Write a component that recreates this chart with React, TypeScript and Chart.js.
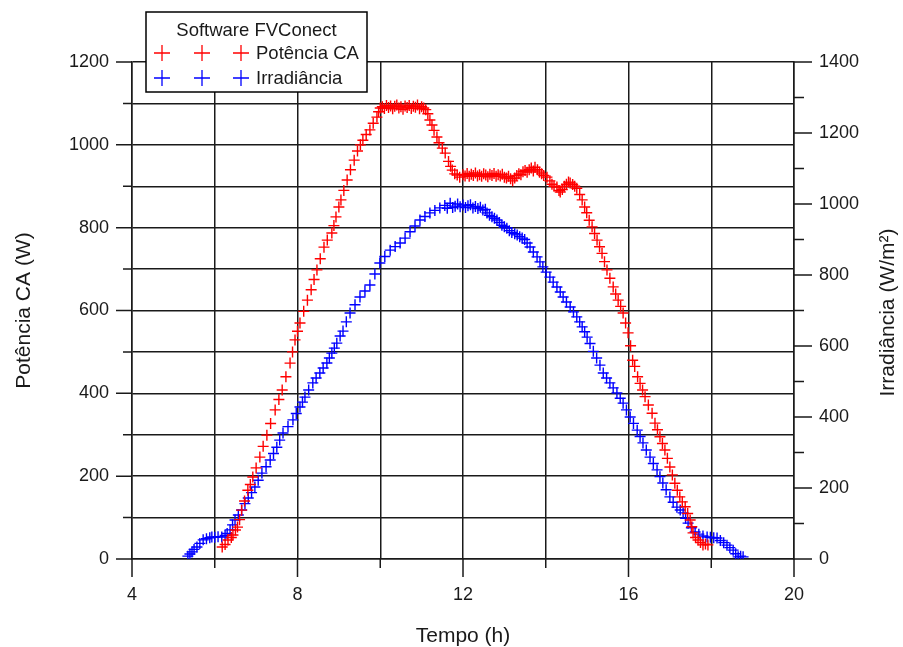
import React, { useEffect, useRef } from 'react';
import { Chart, registerables } from 'chart.js';

Chart.register(...registerables);

// ---------- data ----------
const xTickLabels = [4, 8, 12, 16, 20];
const leftTickLabels = [0, 200, 400, 600, 800, 1000, 1200];
const rightTickLabels = [0, 200, 400, 600, 800, 1000, 1200, 1400];

const legendTitle = 'Software FVConect';
const seriesNames = ['Potência CA', 'Irradiância'];
const axisTitles = ['Tempo (h)', 'Potência CA (W)', 'Irradiância (W/m²)'];

// Potência CA (W) vs time (h)
const potTime = [
  6.18, 6.25, 6.32, 6.40, 6.44, 6.50, 6.55, 6.60, 6.65, 6.72, 6.80, 6.86, 6.92, 7.00, 7.09, 7.17,
  7.26, 7.35, 7.46, 7.55, 7.63, 7.72, 7.82, 7.88, 7.94, 8.00, 8.06, 8.15, 8.24, 8.33, 8.40, 8.47,
  8.55, 8.64, 8.72, 8.83, 8.88, 8.93, 9.00, 9.05, 9.12, 9.20, 9.28, 9.37, 9.45, 9.52, 9.58, 9.66,
  9.75, 9.83, 9.92, 9.96, 10.00, 10.05, 10.10, 10.15, 10.20, 10.25, 10.30, 10.35, 10.40, 10.45, 10.50, 10.55,
  10.60, 10.65, 10.70, 10.75, 10.80, 10.85, 10.90, 10.95, 11.00, 11.05, 11.10, 11.15, 11.20, 11.25, 11.30, 11.37,
  11.42, 11.50, 11.57, 11.65, 11.70, 11.74, 11.80, 11.86, 11.92, 12.00, 12.05, 12.10, 12.15, 12.20, 12.25, 12.30,
  12.35, 12.40, 12.45, 12.50, 12.55, 12.60, 12.65, 12.70, 12.75, 12.80, 12.85, 12.90, 12.95, 13.00, 13.05, 13.10,
  13.15, 13.20, 13.25, 13.30, 13.35, 13.40, 13.45, 13.50, 13.55, 13.60, 13.65, 13.70, 13.74, 13.80, 13.85, 13.90,
  13.95, 14.03, 14.10, 14.15, 14.20, 14.27, 14.32, 14.35, 14.40, 14.45, 14.50, 14.55, 14.59, 14.65, 14.70, 14.75,
  14.82, 14.88, 14.94, 14.99, 15.05, 15.12, 15.18, 15.24, 15.30, 15.36, 15.42, 15.48, 15.55, 15.63, 15.69, 15.75,
  15.81, 15.87, 15.93, 15.99, 16.05, 16.10, 16.15, 16.22, 16.28, 16.34, 16.40, 16.48, 16.57, 16.64, 16.70, 16.76,
  16.82, 16.88, 16.94, 17.00, 17.06, 17.12, 17.18, 17.24, 17.30, 17.37, 17.43, 17.49, 17.53, 17.56, 17.62, 17.68,
  17.74, 17.80, 17.86, 17.92,
];
const potValue = [
  29, 35, 46, 52, 58, 70, 77, 95, 118, 140, 166, 180, 198, 220, 246, 272,
  299, 327, 360, 385, 408, 440, 473, 500, 529, 550, 570, 598, 625, 650, 675, 698,
  725, 753, 770, 787, 805, 826, 850, 867, 890, 915, 940, 963, 985, 1000, 1011, 1025,
  1036, 1052, 1067, 1080, 1089, 1092, 1088, 1095, 1090, 1094, 1087, 1093, 1096, 1089, 1092, 1086,
  1094, 1090, 1095, 1088, 1093, 1091, 1096, 1087, 1092, 1089, 1085, 1075, 1060, 1048, 1035, 1019,
  1005, 992, 980, 960, 948, 939, 930, 927, 922, 928, 925, 931, 924, 929, 926, 932,
  925, 928, 924, 930, 927, 923, 929, 926, 931, 924, 928, 925, 929, 922, 920, 924,
  918, 913, 920, 926, 930, 928, 935, 938, 934, 940, 944, 937, 946, 940, 934, 930,
  926, 922, 913, 905, 900, 898, 890, 886, 892, 900, 905, 910, 908, 904, 900, 895,
  880, 867, 850, 836, 818, 802, 786, 770, 754, 738, 718, 698, 678, 657, 640, 625,
  610, 594, 570, 546, 515, 480, 465, 440, 424, 408, 392, 372, 352, 328, 312, 295,
  279, 263, 243, 222, 203, 183, 166, 150, 138, 126, 110, 94, 78, 63, 52, 46,
  40, 34, 36, 34,
];

// Irradiância (W/m²) vs time (h)
const irrTime = [
  5.35, 5.40, 5.45, 5.50, 5.57, 5.64, 5.72, 5.80, 5.88, 5.93, 6.00, 6.08, 6.17, 6.25, 6.30, 6.37,
  6.43, 6.49, 6.57, 6.65, 6.73, 6.81, 6.89, 6.97, 7.05, 7.14, 7.24, 7.34, 7.42, 7.50, 7.57, 7.65,
  7.77, 7.89, 7.97, 8.06, 8.12, 8.18, 8.27, 8.37, 8.45, 8.54, 8.62, 8.71, 8.77, 8.83, 8.89, 8.95,
  9.03, 9.10, 9.18, 9.27, 9.39, 9.51, 9.63, 9.75, 9.87, 9.99, 10.11, 10.24, 10.36, 10.48, 10.60, 10.72,
  10.84, 10.96, 11.08, 11.20, 11.32, 11.44, 11.56, 11.62, 11.69, 11.75, 11.81, 11.87, 11.93, 12.00, 12.06, 12.12,
  12.18, 12.24, 12.30, 12.36, 12.42, 12.48, 12.54, 12.58, 12.64, 12.70, 12.76, 12.82, 12.88, 12.94, 13.00, 13.06,
  13.12, 13.18, 13.25, 13.31, 13.37, 13.43, 13.49, 13.55, 13.62, 13.70, 13.79, 13.86, 13.93, 14.01, 14.10, 14.18,
  14.27, 14.35, 14.42, 14.50, 14.59, 14.67, 14.75, 14.82, 14.88, 14.94, 15.00, 15.07, 15.15, 15.23, 15.31, 15.39,
  15.47, 15.55, 15.63, 15.72, 15.80, 15.87, 15.95, 16.04, 16.12, 16.21, 16.28, 16.35, 16.43, 16.52, 16.60, 16.69,
  16.76, 16.83, 16.91, 17.00, 17.08, 17.17, 17.25, 17.32, 17.38, 17.44, 17.52, 17.61, 17.70, 17.80, 17.90, 17.98,
  18.06, 18.14, 18.22, 18.30, 18.38, 18.45, 18.53, 18.59, 18.65, 18.71, 18.77,
];
const irrValue = [
  8, 14, 20, 27, 34, 44, 54, 57, 60, 62, 61, 63, 62, 66, 72, 82,
  96, 110, 124, 138, 156, 172, 187, 203, 222, 242, 260, 279, 297, 315, 335, 355,
  373, 392, 410, 428, 442, 456, 476, 496, 510, 524, 538, 552, 566, 580, 594, 608,
  628, 642, 668, 693, 716, 738, 755, 772, 803, 834, 852, 870, 880, 890, 904, 922,
  938, 955, 965, 975, 982, 989, 996, 988, 1002, 990, 994, 1000, 992, 997, 990, 995,
  998, 989, 993, 987, 991, 983, 985, 975, 968, 964, 960, 955, 948, 940, 936, 932,
  925, 920, 916, 913, 908, 904, 900, 890, 879, 865, 851, 837, 823, 808, 794, 780,
  766, 752, 738, 724, 710, 696, 682, 668, 654, 640, 625, 607, 585, 566, 546, 524,
  510, 496, 482, 468, 453, 439, 420, 400, 382, 363, 345, 327, 307, 287, 269, 251,
  232, 214, 195, 175, 160, 146, 138, 130, 115, 101, 88, 76, 70, 65, 62, 61,
  60, 59, 52, 46, 39, 32, 25, 15, 6, 8, 6,
];

// ---------- styles ----------
const FONT = '"Liberation Sans", Arial, Helvetica, sans-serif';
const TEXT = '#1a1a1a';
const GRID = '#1a1a1a';
const RED = '#ff0000';
const BLUE = '#0000ff';

const tickMarksPlugin = {
  id: 'tickMarks',
  afterDraw(chart: any) {
    const ctx = chart.ctx;
    const { left, right, bottom } = chart.chartArea;
    const xs = chart.scales.x;
    const yl = chart.scales.y;
    const yr = chart.scales.y2;
    ctx.save();
    ctx.strokeStyle = GRID;
    ctx.lineWidth = 1.5;
    ctx.beginPath();
    for (let v = xs.min; v <= xs.max; v += 2) {
      const p = xs.getPixelForValue(v);
      const len = xTickLabels.includes(v) ? 18 : 9;
      ctx.moveTo(p, bottom);
      ctx.lineTo(p, bottom + len);
    }
    for (let v = yl.min; v <= yl.max; v += 100) {
      const p = yl.getPixelForValue(v);
      const len = leftTickLabels.includes(v) ? 16 : 9;
      ctx.moveTo(left - len, p);
      ctx.lineTo(left, p);
    }
    for (let v = yr.min; v <= yr.max; v += 100) {
      const p = yr.getPixelForValue(v);
      const len = rightTickLabels.includes(v) ? 18 : 10;
      ctx.moveTo(right, p);
      ctx.lineTo(right + len, p);
    }
    ctx.stroke();
    ctx.restore();
  },
};

const titlesPlugin = {
  id: 'axisTitles',
  afterDraw(chart: any) {
    const ctx = chart.ctx;
    const { top, bottom, left, right } = chart.chartArea;
    const midY = (top + bottom) / 2;
    ctx.save();
    ctx.fillStyle = TEXT;
    ctx.font = `21px ${FONT}`;
    ctx.textAlign = 'center';
    ctx.textBaseline = 'middle';
    ctx.fillText(axisTitles[0], (left + right) / 2, 636);
    ctx.save();
    ctx.translate(24, midY);
    ctx.rotate(-Math.PI / 2);
    ctx.fillText(axisTitles[1], 0, 0);
    ctx.restore();
    ctx.save();
    ctx.translate(888, midY + 2);
    ctx.rotate(-Math.PI / 2);
    ctx.fillText(axisTitles[2], 0, 0);
    ctx.restore();
    ctx.restore();
  },
};

const legendPlugin = {
  id: 'boxLegend',
  afterDraw(chart: any) {
    const ctx = chart.ctx;
    const bx = 146, by = 12, bw = 221, bh = 80;
    ctx.save();
    ctx.fillStyle = '#ffffff';
    ctx.fillRect(bx, by, bw, bh);
    ctx.strokeStyle = '#000000';
    ctx.lineWidth = 1.5;
    ctx.strokeRect(bx, by, bw, bh);
    ctx.fillStyle = TEXT;
    ctx.font = `18.5px ${FONT}`;
    ctx.textAlign = 'center';
    ctx.textBaseline = 'alphabetic';
    ctx.fillText(legendTitle, bx + bw / 2, 36);
    const rows = [
      { name: seriesNames[0], color: RED, y: 53 },
      { name: seriesNames[1], color: BLUE, y: 78 },
    ];
    rows.forEach((r) => {
      ctx.strokeStyle = r.color;
      ctx.lineWidth = 1.3;
      ctx.beginPath();
      [162, 202, 241].forEach((cx) => {
        ctx.moveTo(cx - 8, r.y);
        ctx.lineTo(cx + 8, r.y);
        ctx.moveTo(cx, r.y - 8);
        ctx.lineTo(cx, r.y + 8);
      });
      ctx.stroke();
      ctx.fillStyle = TEXT;
      ctx.textAlign = 'left';
      ctx.fillText(r.name, 256, r.y + 6);
    });
    ctx.restore();
  },
};

export default function App() {
  const canvasRef = useRef<HTMLCanvasElement | null>(null);

  useEffect(() => {
    if (!canvasRef.current) return;
    const potData = potTime.map((t, i) => ({ x: t, y: potValue[i] }));
    const irrData = irrTime.map((t, i) => ({ x: t, y: irrValue[i] }));
    const tickFont = { family: FONT, size: 18 };
    const chart = new Chart(canvasRef.current, {
      type: 'scatter',
      data: {
        datasets: [
          {
            label: seriesNames[0],
            data: potData,
            yAxisID: 'y',
            pointStyle: 'cross',
            pointRadius: 5.5,
            borderWidth: 1.4,
            borderColor: RED,
            backgroundColor: RED,
          },
          {
            label: seriesNames[1],
            data: irrData,
            yAxisID: 'y2',
            pointStyle: 'cross',
            pointRadius: 5.5,
            borderWidth: 1.4,
            borderColor: BLUE,
            backgroundColor: BLUE,
          },
        ],
      },
      options: {
        animation: false,
        responsive: false,
        devicePixelRatio: 1,
        events: [],
        layout: { padding: { top: 62, left: 0, right: 0, bottom: 0 } },
        plugins: {
          legend: { display: false },
          tooltip: { enabled: false },
          title: { display: false },
        },
        scales: {
          x: {
            type: 'linear',
            position: 'bottom',
            min: 4,
            max: 20,
            ticks: {
              stepSize: 2,
              autoSkip: false,
              maxRotation: 0,
              padding: 25,
              color: TEXT,
              font: tickFont,
              callback: (v: any) => (xTickLabels.includes(Number(v)) ? String(v) : ''),
            },
            grid: { color: GRID, lineWidth: 1.5, drawTicks: false },
            border: { display: true, color: GRID, width: 1.5 },
            afterFit: (s: any) => {
              s.height = 88;
            },
          },
          y: {
            type: 'linear',
            position: 'left',
            min: 0,
            max: 1200,
            ticks: {
              stepSize: 100,
              autoSkip: false,
              padding: 23,
              color: TEXT,
              font: tickFont,
              callback: (v: any) => (leftTickLabels.includes(Number(v)) ? String(v) : ''),
            },
            grid: { color: GRID, lineWidth: 1.5, drawTicks: false },
            border: { display: true, color: GRID, width: 1.5 },
            afterFit: (s: any) => {
              s.width = 132;
            },
          },
          y2: {
            type: 'linear',
            position: 'right',
            min: 0,
            max: 1400,
            ticks: {
              stepSize: 200,
              autoSkip: false,
              padding: 25,
              color: TEXT,
              font: tickFont,
              callback: (v: any) => (rightTickLabels.includes(Number(v)) ? String(v) : ''),
            },
            grid: { display: false, drawTicks: false },
            border: { display: true, color: GRID, width: 1.5 },
            afterFit: (s: any) => {
              s.width = 109;
            },
          },
        },
      },
      plugins: [tickMarksPlugin, titlesPlugin, legendPlugin],
    });
    return () => chart.destroy();
  }, []);

  return (
    <div style={{ position: 'fixed', left: 0, top: 0, width: 903, height: 647, background: '#fff' }}>
      <canvas ref={canvasRef} width={903} height={647} style={{ display: 'block' }} />
    </div>
  );
}
